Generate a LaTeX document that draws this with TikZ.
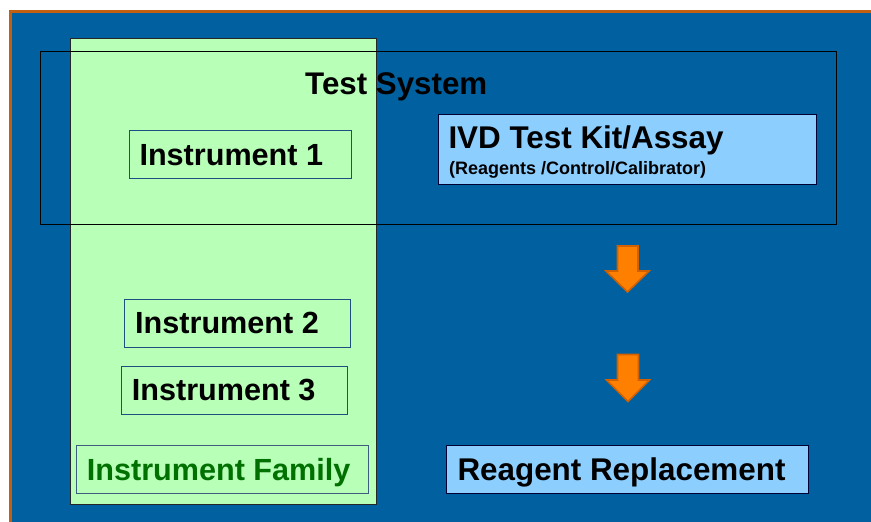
\documentclass[tikz,border=0pt]{standalone}
\usepackage{fontspec}
\setmainfont{Liberation Sans}
\definecolor{bgblue}{HTML}{0060A0}
\definecolor{frameorange}{HTML}{C06010}
\definecolor{famgreen}{HTML}{B8FFB8}
\definecolor{kitblue}{HTML}{8CCFFF}
\definecolor{boxline}{HTML}{1F4E80}
\definecolor{famtext}{HTML}{007000}
\definecolor{arrfill}{HTML}{FF8000}
\definecolor{arrline}{HTML}{D06000}
\tikzset{
  lbl/.style={anchor=base west, inner sep=0pt, font=\bfseries\fontsize{30.6}{32}\selectfont},
  instbox/.style={draw=boxline, line width=1pt, inner sep=0pt},
  kitbox/.style={draw=black!80!blue, fill=kitblue, line width=1pt, inner sep=0pt},
  bigarrow/.style={fill=arrfill, draw=arrline, line width=1.6pt, line join=miter},
}
\begin{document}
\begin{tikzpicture}[x=1pt, y=-1pt]
\useasboundingbox (0,0) rectangle (871,522);
\fill[white] (0,0) rectangle (871,522);
\fill[frameorange] (9,10) rectangle (871,522);
\fill[bgblue] (12,13) rectangle (871,522);
% instrument family panel
\draw[fill=famgreen, draw=black!85, line width=1pt] (70.5,38) rectangle (376.7,504.5);
% test system frame
\draw[black, line width=1pt] (40.3,51.3) rectangle (836.7,224.3);
\node[lbl, font=\bfseries\fontsize{31.3}{32}\selectfont] (ts) at (305,94.3) {Test System};
% instrument boxes
\node[instbox, minimum width=222.7pt, minimum height=48.3pt] (b1) at (240.35,154.15) {};
\node[lbl] (t1) at (139.3,165) {Instrument 1};
\node[instbox, minimum width=226.7pt, minimum height=48pt] (b2) at (237.35,323.3) {};
\node[lbl] (t2) at (135,333.3) {Instrument 2};
\node[instbox, minimum width=226.7pt, minimum height=47.6pt] (b3) at (234.35,390.5) {};
\node[lbl] (t3) at (131.7,400) {Instrument 3};
\node[instbox, draw=boxline!70!gray, minimum width=292.3pt, minimum height=47.6pt] (bf) at (222.15,469.5) {};
\node[lbl, text=famtext] (tf) at (86.7,480.7) {Instrument Family};
% kit box
\node[kitbox, minimum width=378.4pt, minimum height=70pt] (kit) at (627.5,149) {};
\node[lbl, font=\bfseries\fontsize{31.4}{33}\selectfont] (kitt) at (448.3,148.3) {IVD Test Kit/Assay};
\node[lbl, font=\bfseries\fontsize{18}{20}\selectfont] (kits) at (449,174) {(Reagents /Control/Calibrator)};
% reagent replacement
\node[kitbox, minimum width=361.6pt, minimum height=47.6pt] (rr) at (627.5,469.5) {};
\node[lbl, font=\bfseries\fontsize{31.4}{33}\selectfont] (rrt) at (457.3,480) {Reagent Replacement};
% arrows
\draw[bigarrow] (617.5,246) -- (638,246) -- (638,271) -- (649,271) -- (627.5,292) -- (606,271) -- (617.5,271) -- cycle;
\draw[bigarrow] (617.5,354.5) -- (638.5,354.5) -- (638.5,380) -- (649.5,380) -- (628,401.5) -- (606.5,380) -- (617.5,380) -- cycle;
\end{tikzpicture}
\end{document}
